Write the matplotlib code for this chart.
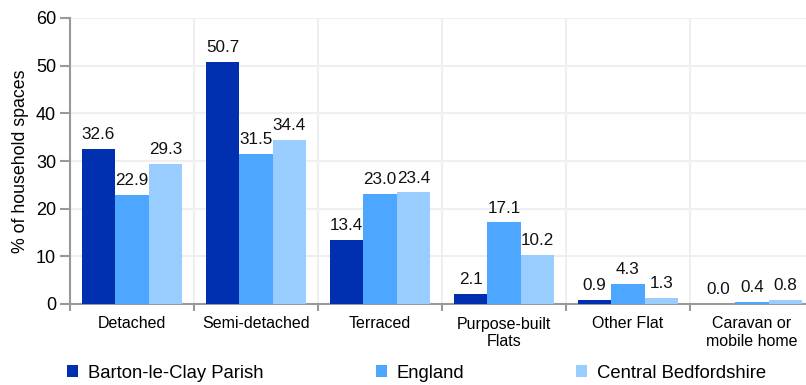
import matplotlib
matplotlib.use("Agg")
import matplotlib.pyplot as plt
import numpy as np
from matplotlib.patches import Patch

plt.rcParams['font.family'] = ['Liberation Sans', 'DejaVu Sans']

categories = ["Detached", "Semi-detached", "Terraced", "Purpose-built\nFlats",
              "Other Flat", "Caravan or\nmobile home"]
series_names = ["Barton-le-Clay Parish", "England", "Central Bedfordshire"]
barton = [32.6, 50.7, 13.4, 2.1, 0.9, 0.0]
england = [22.9, 31.5, 23.0, 17.1, 4.3, 0.4]
central_beds = [29.3, 34.4, 23.4, 10.2, 1.3, 0.8]
colors = ["#002FAF", "#4DA6FF", "#99CCFF"]
yticks = [0, 10, 20, 30, 40, 50, 60]

fig = plt.figure(figsize=(8.06, 3.85), dpi=100)
ax = fig.add_axes([70 / 806, 81 / 385, 744 / 806, 286 / 385])

x = np.arange(len(categories))
bw = 0.27
for i, (vals, col) in enumerate(zip([barton, england, central_beds], colors)):
    pos = x + (i - 1) * bw
    bars = ax.bar(pos, vals, width=bw, color=col, zorder=3)
    for b, v in zip(bars, vals):
        ax.annotate(f"{v:.1f}", (b.get_x() + b.get_width() / 2, v),
                    xytext=(0, 5), textcoords="offset points",
                    ha="center", va="bottom", fontsize=12.3, color="#111111")

ax.set_xlim(-0.5, len(categories) - 0.5)
ax.set_ylim(0, 60)
ax.set_yticks(yticks)
ax.tick_params(axis="y", labelsize=13, length=7, width=1.5, color="#999999", pad=3)

# category labels at centres, tick marks at boundaries
ax.set_xticks(x)
ax.set_xticklabels(categories, fontsize=11.5)
ax.tick_params(axis="x", which="major", length=0, pad=9)
ax.set_xticks(np.arange(-0.5, len(categories)), minor=True)
ax.tick_params(axis="x", which="minor", length=5, width=1.5, color="#999999")

ax.grid(True, axis="y", which="major", color="#EFEFEF", linewidth=1.5, zorder=0)
ax.grid(True, axis="x", which="minor", color="#EFEFEF", linewidth=1.5, zorder=0)

for s in ["top", "right"]:
    ax.spines[s].set_visible(False)
for s in ["left", "bottom"]:
    ax.spines[s].set_color("#999999")
    ax.spines[s].set_linewidth(1.5)

ax.set_ylabel("% of household spaces", fontsize=12.8, labelpad=5)

handles = [Patch(facecolor=c, edgecolor="none") for c in colors]
fig.legend(handles, series_names, loc="center left",
           bbox_to_anchor=(67 / 806, 1 - 373 / 385), ncol=3, frameon=False,
           fontsize=13.3, handlelength=0.6, handleheight=0.6,
           handletextpad=0.55, columnspacing=6.05, borderpad=0, borderaxespad=0)

fig.savefig("out.png", dpi=100)
